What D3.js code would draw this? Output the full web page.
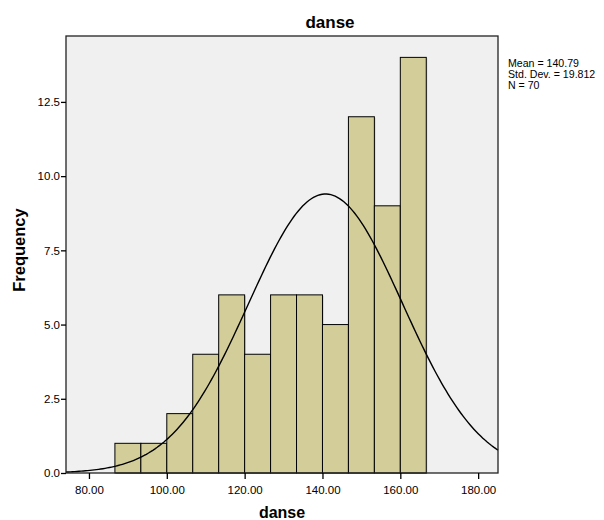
<!DOCTYPE html>
<html>
<head>
<meta charset="utf-8">
<script src="https://cdn.jsdelivr.net/npm/d3@7"></script>
<style>
  body { margin: 0; background: #fff; }
  text { font-family: "Liberation Sans", Arial, sans-serif; }
</style>
</head>
<body>
<div id="chart"></div>
<script>
// histogram data
const binStarts   = [86.667, 93.333, 100, 106.667, 113.333, 120, 126.667, 133.333, 140, 146.667, 153.333, 160]
const binWidth    = 6.6667
const frequencies = [1, 1, 2, 4, 6, 4, 6, 6, 5, 12, 9, 14]
const xTicks      = [80, 100, 120, 140, 160, 180]
const yTicks      = [0, 2.5, 5, 7.5, 10, 12.5]
const stats       = ['Mean = 140.79', 'Std. Dev. = 19.812', 'N = 70']
const mean = 140.79, sd = 19.812, n = 70

const width = 604, height = 520
const plot = { left: 66, right: 498, top: 36, bottom: 473 }

const svg = d3.select('#chart').append('svg').attr('width', width).attr('height', height)

var x = d3.scaleLinear().domain([74.1, 185.1]).range([plot.left, plot.right])
var y = d3.scaleLinear().domain([0, 14.72]).range([plot.bottom, plot.top])

// plot background
svg.append('rect')
  .attr('x', plot.left).attr('y', plot.top)
  .attr('width', plot.right - plot.left).attr('height', plot.bottom - plot.top)
  .attr('fill', '#f0f0f0')

// bars (shadow then bar)
var bars = svg.append('g')
bars.selectAll('rect.shadow')
  .data(frequencies)
  .enter().append('rect')
  .attr('x', (d, i) => x(binStarts[i]) + 1)
  .attr('y', d => y(d) + 1)
  .attr('width', (d, i) => x(binStarts[i] + binWidth) - x(binStarts[i]))
  .attr('height', d => y(0) - y(d))
  .attr('fill', '#8a8a7a').attr('opacity', 0.5)
bars.selectAll('rect.bar')
  .data(frequencies)
  .enter().append('rect')
  .attr('x', (d, i) => x(binStarts[i]))
  .attr('y', d => y(d))
  .attr('width', (d, i) => x(binStarts[i] + binWidth) - x(binStarts[i]))
  .attr('height', d => y(0) - y(d))
  .attr('fill', '#d3ce99')
  .attr('stroke', '#000').attr('stroke-width', 1)

// normal curve
var xs = d3.range(200).map(i => 74.1 + i * (185.1 - 74.1) / 199)
var pdf = v => n * binWidth * Math.exp(-0.5 * ((v - mean) / sd) ** 2) / (sd * Math.sqrt(2 * Math.PI))
svg.append('path')
  .datum(xs)
  .attr('fill', 'none').attr('stroke', '#000').attr('stroke-width', 1.4)
  .attr('d', d3.line().x(d => x(d)).y(d => y(pdf(d))))

// frame
svg.append('rect')
  .attr('x', plot.left).attr('y', plot.top)
  .attr('width', plot.right - plot.left).attr('height', plot.bottom - plot.top)
  .attr('fill', 'none').attr('stroke', '#222').attr('stroke-width', 1.3)

// axes
var xAxis = svg.append('g').attr('transform', 'translate(0,' + plot.bottom + ')')
  .call(d3.axisBottom(x).tickValues(xTicks).tickFormat(d3.format('.2f')).tickSize(6).tickSizeOuter(0))
var yAxis = svg.append('g').attr('transform', 'translate(' + plot.left + ',0)')
  .call(d3.axisLeft(y).tickValues(yTicks).tickFormat(d3.format('.1f')).tickSize(5).tickSizeOuter(0))
;[xAxis, yAxis].forEach(a => {
  a.select('.domain').remove()
  a.selectAll('line').attr('stroke', '#000').attr('stroke-width', 1.3)
  a.selectAll('text').attr('fill', '#000').style('font-size', '11.5px')
    .style('font-family', '"Liberation Sans", Arial, sans-serif')
})
xAxis.selectAll('text').attr('dy', '1.05em')
yAxis.selectAll('text').attr('x', -6)

// titles
svg.append('text').attr('x', 330).attr('y', 28).attr('text-anchor', 'middle')
  .style('font-size', '17px').style('font-weight', 'bold').text('danse')
svg.append('text').attr('x', 282).attr('y', 518).attr('text-anchor', 'middle')
  .style('font-size', '16px').style('font-weight', 'bold').text('danse')
svg.append('text').attr('transform', 'translate(25,250) rotate(-90)').attr('text-anchor', 'middle')
  .style('font-size', '16.5px').style('font-weight', 'bold').text('Frequency')

// stats box text
svg.append('g').selectAll('text')
  .data(stats)
  .enter().append('text')
  .attr('x', 508).attr('y', (d, i) => 67 + i * 11)
  .style('font-size', '10.6px')
  .text(d => d)
</script>
</body>
</html>
